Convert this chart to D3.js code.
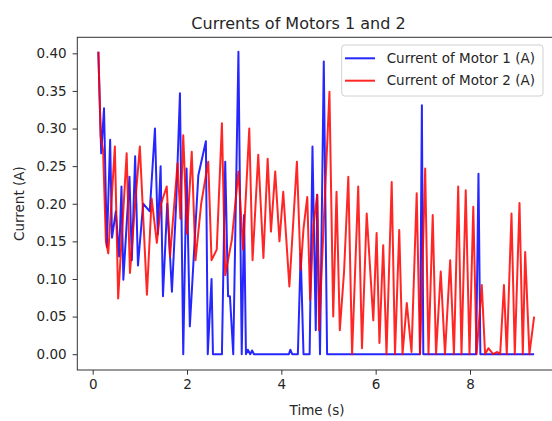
<!DOCTYPE html>
<html>
<head>
<meta charset="utf-8">
<script src="https://cdn.jsdelivr.net/npm/d3@7"></script>
<style>
  html, body { margin: 0; padding: 0; background: #fff; overflow: hidden; }
  svg text { font-family: "DejaVu Sans", sans-serif; fill: #262626; }
</style>
</head>
<body>
<svg id="chart" width="552" height="421"></svg>
<script>
// ---- Data ----
const titleText = "Currents of Motors 1 and 2";
const xLabel = "Time (s)";
const yLabel = "Current (A)";
const seriesNames = ["Current of Motor 1 (A)", "Current of Motor 2 (A)"];
const xTicks = [0, 2, 4, 6, 8];
const yTicks = [0, 0.05, 0.10, 0.15, 0.20, 0.25, 0.30, 0.35, 0.40];

const time1 = [0.12,0.18,0.24,0.30,0.37,0.41,0.49,0.56,0.61,0.65,0.78,0.83,0.90,0.96,1.07,1.21,1.32,1.38,1.44,1.49,1.58,1.68,1.77,1.85,1.92,1.99,2.06,2.24,2.40,2.44,2.52,2.55,2.74,2.81,2.87,2.91,2.98,3.09,3.16,3.21,3.25,3.29,3.34,3.38,3.42,4.16,4.19,4.23,4.35,4.41,4.47,4.60,4.66,4.73,4.76,4.82,4.90,4.97,6.94,6.98,7.01,8.13,8.18,8.22,9.36];
const motor1 = [0.402,0.267,0.327,0.143,0.285,0.155,0.19,0.13,0.223,0.099,0.236,0.125,0.263,0.118,0.20,0.19,0.30,0.16,0.25,0.077,0.20,0.083,0.20,0.347,0.0,0.247,0.037,0.238,0.283,0.0,0.10,0.0,0.0,0.256,0.077,0.077,0.0,0.402,0.0,0.185,0.0,0.006,0.0,0.005,0.0,0.0,0.006,0.0,0.0,0.134,0.0,0.0,0.276,0.032,0.212,0.0,0.389,0.0,0.0,0.331,0.0,0.0,0.24,0.0,0.0];

const time2 = [0.12,0.17,0.22,0.28,0.33,0.47,0.54,0.72,0.79,0.90,1.00,1.15,1.25,1.36,1.45,1.57,1.64,1.80,1.86,1.92,2.00,2.10,2.18,2.30,2.45,2.52,2.63,2.74,2.81,2.95,3.09,3.19,3.32,3.39,3.51,3.62,3.71,3.78,3.87,3.96,4.04,4.17,4.33,4.41,4.47,4.55,4.61,4.68,4.76,4.80,5.02,5.10,5.17,5.24,5.33,5.42,5.50,5.63,5.71,5.81,5.95,6.02,6.08,6.16,6.23,6.34,6.41,6.50,6.57,6.66,6.76,6.87,6.94,7.05,7.12,7.21,7.28,7.38,7.47,7.58,7.66,7.75,7.82,7.91,7.99,8.07,8.14,8.25,8.32,8.39,8.49,8.58,8.64,8.72,8.78,8.88,8.95,9.05,9.12,9.17,9.26,9.36];
const motor2 = [0.402,0.289,0.271,0.15,0.134,0.276,0.074,0.267,0.108,0.20,0.276,0.079,0.207,0.148,0.20,0.223,0.13,0.254,0.18,0.291,0.16,0.269,0.125,0.20,0.256,0.125,0.139,0.307,0.105,0.152,0.243,0.139,0.30,0.125,0.265,0.128,0.26,0.163,0.243,0.15,0.216,0.09,0.256,0.112,0.167,0.209,0.072,0.17,0.212,0.032,0.349,0.05,0.216,0.032,0.11,0.236,0.0,0.223,0.008,0.187,0.045,0.161,0.015,0.145,0.0,0.229,0.0,0.165,0.0,0.068,0.003,0.214,0.0,0.247,0.0,0.185,0.0,0.11,0.0,0.125,0.0,0.223,0.0,0.218,0.0,0.196,0.0,0.092,0.0,0.008,0.0,0.003,0.0,0.092,0.0,0.187,0.0,0.201,0.0,0.136,0.0,0.05];

// ---- Layout ----
const svg = d3.select("#chart");
const plot = { left: 77.3, right: 557, top: 37.3, bottom: 370 };

const x = d3.scaleLinear().domain([-0.3265, 9.845]).range([plot.left, plot.right]);
const y = d3.scaleLinear().domain([-0.021, 0.4213]).range([plot.bottom, plot.top]);

// clip for lines
svg.append("defs").append("clipPath").attr("id", "clip")
  .append("rect").attr("x", plot.left).attr("y", plot.top)
  .attr("width", plot.right - plot.left).attr("height", plot.bottom - plot.top);

const line = d3.line().x(d => x(d[0])).y(d => y(d[1]));
const s1 = time1.map((t, i) => [t, motor1[i]]);
const s2 = time2.map((t, i) => [t, motor2[i]]);

const g = svg.append("g").attr("clip-path", "url(#clip)");
g.append("path").datum(s1).attr("d", line)
  .attr("fill", "none").attr("stroke", "#0000ff").attr("stroke-width", 2)
  .attr("stroke-opacity", 0.85).attr("stroke-linejoin", "round");
g.append("path").datum(s2).attr("d", line)
  .attr("fill", "none").attr("stroke", "#ff0000").attr("stroke-width", 2)
  .attr("stroke-opacity", 0.85).attr("stroke-linejoin", "round");

// axes
const xAxis = d3.axisBottom(x).tickValues(xTicks).tickFormat(d3.format("d"))
  .tickSize(4.7).tickPadding(4.7).tickSizeOuter(0);
const yAxis = d3.axisLeft(y).tickValues(yTicks).tickFormat(d3.format(".2f"))
  .tickSize(4.7).tickPadding(6).tickSizeOuter(0);

const gx = svg.append("g").attr("transform", `translate(0,${plot.bottom})`).call(xAxis);
const gy = svg.append("g").attr("transform", `translate(${plot.left},0)`).call(yAxis);
[gx, gy].forEach(a => {
  a.select(".domain").remove();
  a.selectAll(".tick line").attr("stroke", "#333").attr("stroke-width", 1);
  a.selectAll(".tick text").attr("font-family", "DejaVu Sans, sans-serif")
    .attr("font-size", 13.5).attr("fill", "#262626");
});

// spines
svg.append("rect").attr("x", plot.left).attr("y", plot.top)
  .attr("width", plot.right - plot.left).attr("height", plot.bottom - plot.top)
  .attr("fill", "none").attr("stroke", "#333").attr("stroke-width", 1);

// title and labels
svg.append("text").attr("x", 298.5).attr("y", 29).attr("text-anchor", "middle")
  .attr("font-size", 16).text(titleText);
svg.append("text").attr("x", 317).attr("y", 415).attr("text-anchor", "middle")
  .attr("font-size", 13.5).text(xLabel);
svg.append("text").attr("transform", `translate(19,${(plot.top + plot.bottom) / 2}) rotate(-90)`)
  .attr("text-anchor", "middle").attr("dominant-baseline", "central")
  .attr("font-size", 13.5).text(yLabel);

// legend
const leg = svg.append("g");
leg.append("rect").attr("x", 341.7).attr("y", 45).attr("width", 201.3).attr("height", 51)
  .attr("rx", 3).attr("fill", "#fff").attr("fill-opacity", 0.85)
  .attr("stroke", "#d0d0d0").attr("stroke-width", 1);
const legColors = ["#0000ff", "#ff0000"];
const legY = [58.3, 80.7];
seriesNames.forEach((name, i) => {
  leg.append("line").attr("x1", 345).attr("x2", 375).attr("y1", legY[i]).attr("y2", legY[i])
    .attr("stroke", legColors[i]).attr("stroke-width", 2).attr("stroke-opacity", 0.85);
  leg.append("text").attr("x", 386.7).attr("y", legY[i]).attr("dy", "0.35em")
    .attr("font-size", 13.5).text(name);
});
</script>
</body>
</html>
